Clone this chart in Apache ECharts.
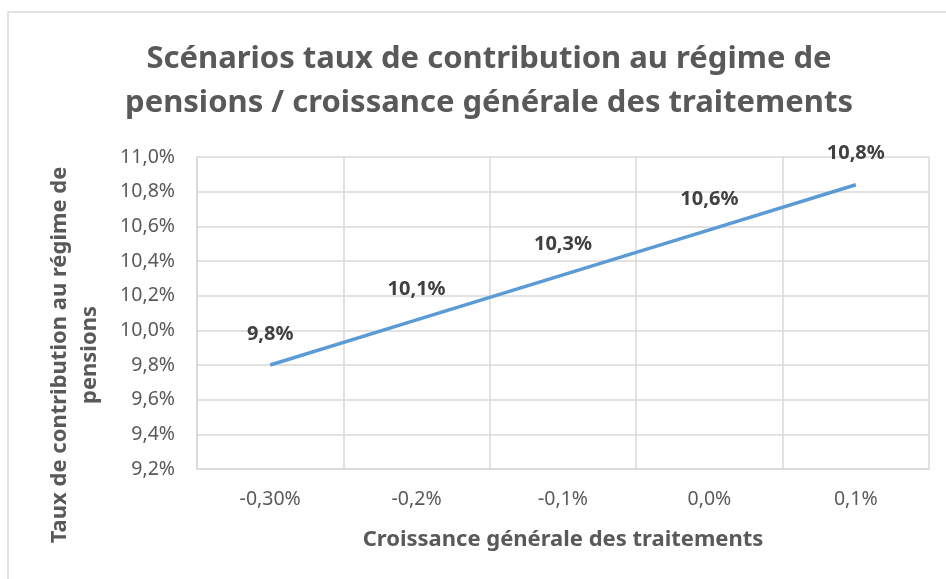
<!DOCTYPE html>
<html>
<head>
<meta charset="utf-8">
<script src="https://cdn.jsdelivr.net/npm/echarts@6/dist/echarts.min.js"></script>
<style>
  html, body { margin: 0; padding: 0; background: #fff; }
  #chart { width: 946px; height: 579px; }
</style>
</head>
<body>
<div id="chart"></div>
<script>
// données
var categories = ['-0,30%', '-0,2%', '-0,1%', '0,0%', '0,1%'];
var tauxContribution = [9.80, 10.06, 10.32, 10.58, 10.84];
var yTicks = { min: 9.2, max: 11.0, step: 0.2 };

(function () {
    'use strict';
    var myChart = echarts.init(document.getElementById('chart'));
    var font = '"Noto Sans", "Open Sans", sans-serif';

    function pct(v, d) {
        return v.toFixed(d).replace('.', ',') + '%';
    }

    var option = {
        animation: false,
        backgroundColor: '#fff',
        textStyle: { fontFamily: font },
        graphic: [{
            // cadre du graphique
            type: 'rect',
            shape: { x: 8, y: 12, width: 1000, height: 1000 },
            style: { fill: 'none', stroke: '#d9d9d9', lineWidth: 1.5 },
            silent: true
        }],
        title: {
            text: 'Scénarios taux de contribution au régime de\npensions / croissance générale des traitements',
            left: 484,
            textAlign: 'center',
            top: 32,
            textStyle: {
                color: '#595959',
                fontSize: 31,
                fontWeight: 'bold',
                lineHeight: 44
            }
        },
        grid: {
            left: 197,
            right: 17,
            top: 157,
            bottom: 110
        },
        xAxis: {
            type: 'category',
            data: categories,
            boundaryGap: true,
            name: 'Croissance générale des traitements',
            nameLocation: 'middle',
            nameGap: 60,
            nameTextStyle: {
                color: '#595959',
                fontSize: 22,
                fontWeight: 'bold'
            },
            axisLine: { lineStyle: { color: '#d9d9d9', width: 1.5 } },
            axisTick: { show: false },
            axisLabel: {
                color: '#595959',
                fontSize: 19.5,
                margin: 20
            },
            splitLine: {
                show: true,
                lineStyle: { color: '#d9d9d9', width: 1.5 }
            }
        },
        yAxis: {
            type: 'value',
            min: yTicks.min,
            max: yTicks.max,
            interval: yTicks.step,
            name: 'Taux de contribution au régime de\npensions',
            nameLocation: 'middle',
            nameGap: 92,
            nameTextStyle: {
                color: '#595959',
                fontSize: 22,
                fontWeight: 'bold',
                lineHeight: 30,
                padding: [0, 84, 0, 0]
            },
            axisLine: { show: true, lineStyle: { color: '#d9d9d9', width: 1.5 } },
            axisTick: { show: false },
            axisLabel: {
                color: '#595959',
                fontSize: 19.5,
                margin: 22,
                formatter: function (v) { return pct(v, 1); }
            },
            splitLine: {
                lineStyle: { color: '#d9d9d9', width: 1.5 }
            }
        },
        series: [{
            name: 'Taux de contribution',
            type: 'line',
            data: tauxContribution,
            symbol: 'circle',
            symbolSize: 0,
            showSymbol: true,
            lineStyle: { color: '#5b9bd5', width: 3.5 },
            itemStyle: { color: '#5b9bd5' },
            label: {
                show: true,
                position: 'top',
                distance: 21,
                color: '#404040',
                fontSize: 20,
                fontWeight: 'bold',
                formatter: function (p) { return pct(p.value, 1); }
            }
        }]
    };
    myChart.setOption(option);
    window.addEventListener('resize', function () {
        myChart.resize();
    });
})();
</script>
</body>
</html>
